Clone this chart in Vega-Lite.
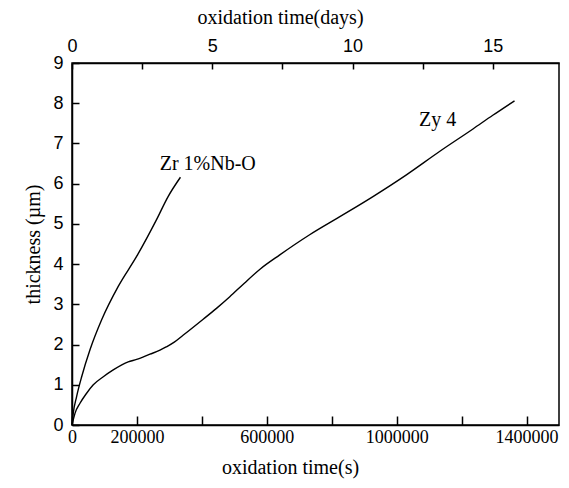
{
  "$schema": "https://vega.github.io/schema/vega-lite/v6.json",
  "width": 487,
  "height": 362,
  "autosize": {"type": "none"},
  "padding": {"left": 72, "top": 63, "right": 10, "bottom": 63},
  "background": "white",
  "config": {
    "view": {"stroke": "black", "strokeWidth": 1.5},
    "axis": {"domainColor": "black", "tickColor": "black", "labelColor": "black", "titleColor": "black", "domainWidth": 1.5, "tickWidth": 1.5, "grid": false, "titleFontWeight": "normal"}
  },
  "datasets": {
    "curves": [
      {"series": "Zy 4", "s": 0, "t": 0},
      {"series": "Zy 4", "s": 9200, "t": 0.29},
      {"series": "Zy 4", "s": 24600, "t": 0.54},
      {"series": "Zy 4", "s": 45000, "t": 0.79},
      {"series": "Zy 4", "s": 65600, "t": 1.0},
      {"series": "Zy 4", "s": 96400, "t": 1.2},
      {"series": "Zy 4", "s": 127000, "t": 1.37},
      {"series": "Zy 4", "s": 173000, "t": 1.57},
      {"series": "Zy 4", "s": 199000, "t": 1.63},
      {"series": "Zy 4", "s": 240000, "t": 1.76},
      {"series": "Zy 4", "s": 271000, "t": 1.86},
      {"series": "Zy 4", "s": 290000, "t": 1.94},
      {"series": "Zy 4", "s": 315000, "t": 2.06},
      {"series": "Zy 4", "s": 342000, "t": 2.23},
      {"series": "Zy 4", "s": 404000, "t": 2.63},
      {"series": "Zy 4", "s": 445000, "t": 2.9},
      {"series": "Zy 4", "s": 486000, "t": 3.19},
      {"series": "Zy 4", "s": 530000, "t": 3.52},
      {"series": "Zy 4", "s": 580000, "t": 3.88},
      {"series": "Zy 4", "s": 640000, "t": 4.23},
      {"series": "Zy 4", "s": 732000, "t": 4.73},
      {"series": "Zy 4", "s": 825000, "t": 5.18},
      {"series": "Zy 4", "s": 927000, "t": 5.68},
      {"series": "Zy 4", "s": 1030000, "t": 6.22},
      {"series": "Zy 4", "s": 1132000, "t": 6.8},
      {"series": "Zy 4", "s": 1235000, "t": 7.36},
      {"series": "Zy 4", "s": 1296000, "t": 7.7},
      {"series": "Zy 4", "s": 1363000, "t": 8.06},
      {"series": "Zr 1%Nb-O", "s": 0, "t": 0},
      {"series": "Zr 1%Nb-O", "s": 4000, "t": 0.3},
      {"series": "Zr 1%Nb-O", "s": 14000, "t": 0.7},
      {"series": "Zr 1%Nb-O", "s": 29800, "t": 1.2},
      {"series": "Zr 1%Nb-O", "s": 55400, "t": 1.87},
      {"series": "Zr 1%Nb-O", "s": 91000, "t": 2.61},
      {"series": "Zr 1%Nb-O", "s": 142000, "t": 3.44},
      {"series": "Zr 1%Nb-O", "s": 199000, "t": 4.19},
      {"series": "Zr 1%Nb-O", "s": 260000, "t": 5.1},
      {"series": "Zr 1%Nb-O", "s": 296000, "t": 5.68},
      {"series": "Zr 1%Nb-O", "s": 334000, "t": 6.16}
    ],
    "labels": [
      {"label": "Zr 1%Nb-O", "s": 418000, "t": 6.49},
      {"label": "Zy 4", "s": 1126000, "t": 7.59}
    ],
    "days": [
      {"days": 0},
      {"days": 15}
    ]
  },
  "layer": [
    {
      "layer": [
        {
          "data": {"name": "curves"},
          "mark": {"type": "line", "color": "black", "strokeWidth": 1.4, "interpolate": "monotone"},
          "encoding": {
            "x": {
              "field": "s", "type": "quantitative",
              "scale": {"domain": [0, 1500000], "nice": false, "zero": false},
              "axis": {
                "orient": "bottom",
                "title": "oxidation time(s)",
                "titleFont": "Liberation Serif", "titleFontSize": 20,
                "titleX": 218, "titleY": 42, "titleBaseline": "middle", "titleAnchor": "middle",
                "values": [0, 100000, 200000, 300000, 400000, 500000, 600000, 700000, 800000, 900000, 1000000, 1100000, 1200000, 1300000, 1400000, 1500000],
                "format": "d",
                "labelExpr": "(datum.value == 0 || datum.value == 200000 || datum.value == 600000 || datum.value == 1000000 || datum.value == 1400000) ? datum.label : ''",
                "labelFont": "Liberation Serif", "labelFontSize": 18,
                "labelOverlap": false, "labelFlush": false,
                "tickSize": {"condition": {"test": "datum.value % 200000 === 0", "value": -9}, "value": -5},
                "labelPadding": 12
              }
            },
            "y": {
              "field": "t", "type": "quantitative",
              "scale": {"domain": [0, 9], "nice": false},
              "axis": {
                "title": "thickness (µm)",
                "titleFont": "Liberation Serif", "titleFontSize": 20,
                "titleX": -39, "titleY": 181, "titleAngle": -90, "titleBaseline": "middle", "titleAnchor": "middle",
                "values": [0, 0.5, 1, 1.5, 2, 2.5, 3, 3.5, 4, 4.5, 5, 5.5, 6, 6.5, 7, 7.5, 8, 8.5, 9],
                "labelExpr": "datum.value % 1 === 0 ? datum.label : ''",
                "labelFont": "Liberation Sans", "labelFontSize": 18,
                "labelOverlap": false, "labelFlush": false,
                "tickSize": -7,
                "labelPadding": 16
              }
            },
            "detail": {"field": "series", "type": "nominal"}
          }
        },
        {
          "data": {"name": "labels"},
          "mark": {"type": "text", "font": "Liberation Serif", "fontSize": 20, "color": "black", "align": "center", "baseline": "middle"},
          "encoding": {
            "x": {"field": "s", "type": "quantitative"},
            "y": {"field": "t", "type": "quantitative"},
            "text": {"field": "label"}
          }
        }
      ]
    },
    {
      "data": {"name": "days"},
      "mark": {"type": "point", "opacity": 0},
      "encoding": {
        "x": {
          "field": "days", "type": "quantitative",
          "scale": {"domain": [0, 17.3611], "nice": false, "zero": false},
          "axis": {
            "orient": "top",
            "title": "oxidation time(days)",
            "titleFont": "Liberation Serif", "titleFontSize": 20,
            "titleX": 208, "titleY": -46, "titleBaseline": "middle", "titleAnchor": "middle",
            "values": [0, 2.5, 5, 7.5, 10, 12.5, 15],
            "labelExpr": "datum.value % 5 === 0 ? datum.label : ''",
            "labelFont": "Liberation Sans", "labelFontSize": 18,
            "labelOverlap": false, "labelFlush": false,
            "tickSize": -6,
            "labelPadding": 14
          }
        }
      }
    }
  ],
  "resolve": {"scale": {"x": "independent"}}
}
